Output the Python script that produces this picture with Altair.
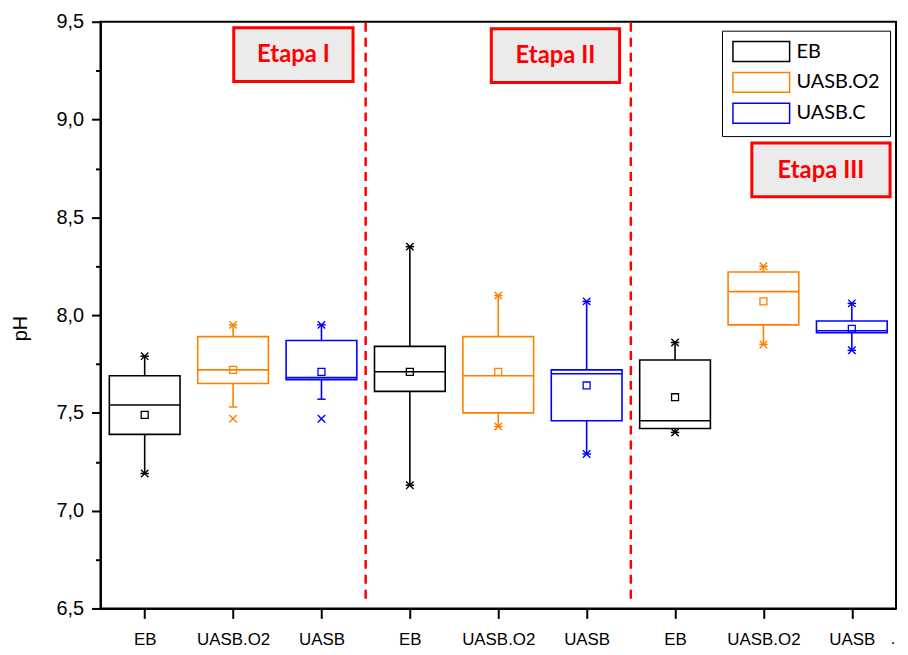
import json
import altair as alt
import pandas as pd

# ---- data ----
positions = [1, 2, 3, 4, 5, 6, 7, 8, 9]
tick_labels = ["EB", "UASB.O2", "UASB", "EB", "UASB.O2", "UASB", "EB", "UASB.O2", "UASB"]
series = ["EB", "UASB.O2", "UASB.C", "EB", "UASB.O2", "UASB.C", "EB", "UASB.O2", "UASB.C"]
series_names = ["EB", "UASB.O2", "UASB.C"]
series_colors = ["#000000", "#FF8000", "#0000FF"]

q1 = [7.39, 7.65, 7.67, 7.61, 7.50, 7.46, 7.42, 7.95, 7.91]
median = [7.54, 7.72, 7.68, 7.71, 7.69, 7.70, 7.46, 8.12, 7.92]
q3 = [7.69, 7.89, 7.87, 7.84, 7.89, 7.72, 7.77, 8.22, 7.97]
mean = [7.49, 7.72, 7.71, 7.71, 7.71, 7.64, 7.58, 8.07, 7.93]
whisk_max = [7.79, 7.95, 7.95, 8.35, 8.10, 8.07, 7.86, 8.25, 8.06]
whisk_min = [7.19, 7.53, 7.57, 7.13, 7.43, 7.29, 7.40, 7.85, 7.82]
p99 = [7.79, 7.95, 7.95, 8.35, 8.10, 8.07, 7.86, 8.25, 8.06]
p1 = [7.19, 7.47, 7.47, 7.13, 7.43, 7.29, 7.40, 7.85, 7.82]

separators = [3.5, 6.5]
sep_top = 9.5
sep_bottom = 6.55

y_major = [6.5, 7.0, 7.5, 8.0, 8.5, 9.0, 9.5]
y_minor = [6.75, 7.25, 7.75, 8.25, 8.75, 9.25]

stage_labels = ["Etapa I", "Etapa II", "Etapa III"]
period_text = ["."]

df = pd.DataFrame({
    "pos": positions, "series": series, "q1": q1, "median": median, "q3": q3,
    "mean": mean, "wmax": whisk_max, "wmin": whisk_min, "p99": p99, "p1": p1,
})
sep_df = pd.DataFrame({"x": separators, "y0": [sep_bottom] * len(separators),
                       "y1": [sep_top] * len(separators)})

W, H = 800, 590
xs = alt.Scale(domain=[0.5, 9.5], nice=False, zero=False)
ys = alt.Scale(domain=[6.5, 9.5], nice=False, zero=False)
stroke_scale = alt.Scale(domain=series_names, range=series_colors)

AX_FONT = "Liberation Sans"

xaxis = alt.Axis(
    values=positions,
    labelExpr=f"{json.dumps(tick_labels)}[datum.value - 1]",
    grid=False, tickSize=10, tickWidth=2, tickColor="black",
    domainColor="black", domainWidth=2,
    labelFont=AX_FONT, labelFontSize=17, labelColor="black", labelPadding=13,
    labelFlush=False, labelOverlap=False, title=None,
)
yaxis = alt.Axis(
    values=y_major,
    labelExpr="replace(format(datum.value, '.1f'), '.', ',')",
    grid=False, tickSize=9, tickWidth=2, tickColor="black",
    domainColor="black", domainWidth=2,
    labelFont=AX_FONT, labelFontSize=20, labelColor="black", labelPadding=8,
    labelFlush=False, labelOverlap=False,
    title="pH", titleFont=AX_FONT, titleFontSize=20, titleFontWeight="normal",
    titleColor="black", titleX=-80, titleY=308, titleAngle=270,
    titleAlign="center", titleBaseline="middle",
)
yaxis_minor = alt.Axis(
    orient="left", values=y_minor, labels=False, domain=False, grid=False,
    tickSize=5, tickWidth=2, tickColor="black", title=None,
)

legend = alt.Legend(
    title=None, orient="none", legendX=625, legendY=9, direction="vertical",
    symbolType="M-1,-1H4.7V1H-1Z", symbolSize=400, symbolStrokeWidth=1.5,
    symbolFillColor="transparent",
    labelFont="Lato", labelFontSize=20, labelColor="black", labelOffset=43,
    rowPadding=5, padding=10, strokeColor="black", fillColor="white",
)


def stroke(leg=None):
    return alt.Stroke("series:N", scale=stroke_scale, legend=leg)


def X(field):
    return alt.X(field, type="quantitative", scale=xs, axis=xaxis)


base = alt.Chart(df).transform_calculate(lo="datum.pos - 0.4", hi="datum.pos + 0.4")

boxes = base.mark_rect(fill="transparent", strokeWidth=1.6).encode(
    x=X("lo"), x2="hi:Q",
    y=alt.Y("q1:Q", scale=ys, axis=yaxis), y2="q3:Q",
    stroke=stroke(legend),
)
med = base.mark_rule(strokeWidth=1.6).encode(
    x=X("lo"), x2="hi:Q",
    y=alt.Y("median:Q", scale=ys, axis=None), stroke=stroke(),
)
wh_hi = base.mark_rule(strokeWidth=1.6).encode(
    x=X("pos"),
    y=alt.Y("q3:Q", scale=ys, axis=None), y2="wmax:Q", stroke=stroke(),
)
wh_lo = base.mark_rule(strokeWidth=1.6).encode(
    x=X("pos"),
    y=alt.Y("wmin:Q", scale=ys, axis=None), y2="q1:Q", stroke=stroke(),
)
caps = base.transform_fold(["wmax", "wmin"], as_=["k", "v"]).mark_point(
    shape="M-1,0L1,0", size=72, filled=False, strokeWidth=1.5, opacity=1
).encode(
    x=X("pos"),
    y=alt.Y("v:Q", scale=ys, axis=None), stroke=stroke(),
)
xmarks = base.transform_fold(["p99", "p1"], as_=["k", "v"]).mark_point(
    shape="M-1,-1L1,1M-1,1L1,-1", size=56, filled=False, strokeWidth=1.4, opacity=1
).encode(
    x=X("pos"),
    y=alt.Y("v:Q", scale=ys, axis=None), stroke=stroke(),
)
means = base.mark_point(shape="square", size=49, filled=False, strokeWidth=1.3, opacity=1).encode(
    x=X("pos"),
    y=alt.Y("mean:Q", scale=ys, axis=None), stroke=stroke(),
)
seps = alt.Chart(sep_df).mark_rule(color="#FF0000", strokeWidth=2.5, strokeDash=[9, 6]).encode(
    x=X("x"),
    y=alt.Y("y0:Q", scale=ys, axis=yaxis_minor), y2="y1:Q",
)

# stage annotation boxes (pixel placement, like text boxes in the original)
stage_boxes = [(134, 6, 254, 60), (393, 7, 522, 61), (655, 122, 794, 176)]
stage_layers = []
for txt, (bx0, by0, bx1, by1) in zip(stage_labels, stage_boxes):
    sdf = pd.DataFrame({"t": [txt]})
    stage_layers.append(
        alt.Chart(sdf).mark_rect(fill="#EBEBEB", stroke="#FF0000", strokeWidth=3).encode(
            x=alt.value(bx0), x2=alt.value(bx1), y=alt.value(by0), y2=alt.value(by1)
        )
    )
    stage_layers.append(
        alt.Chart(sdf).mark_text(font="Lato", fontWeight="bold", fontSize=24, color="#FF0000",
                                 align="center", baseline="middle").encode(
            x=alt.value((bx0 + bx1) / 2), y=alt.value((by0 + by1) / 2 + 1), text="t:N"
        )
    )

period = alt.Chart(pd.DataFrame({"t": period_text})).mark_text(
    font=AX_FONT, fontSize=17, color="black", align="center", baseline="alphabetic"
).encode(x=alt.value(797), y=alt.value(626), text="t:N")

chart = alt.layer(
    boxes, med, wh_hi, wh_lo, caps, xmarks, means, seps, *stage_layers, period
).resolve_axis(y="independent").properties(
    width=W, height=H,
    padding={"left": 93, "top": 12, "right": 4, "bottom": 42},
    autosize=alt.AutoSizeParams(type="none"),
).configure_view(stroke="black", strokeWidth=2)

chart.save("out.html", embed_options={"renderer": "svg", "actions": False})
